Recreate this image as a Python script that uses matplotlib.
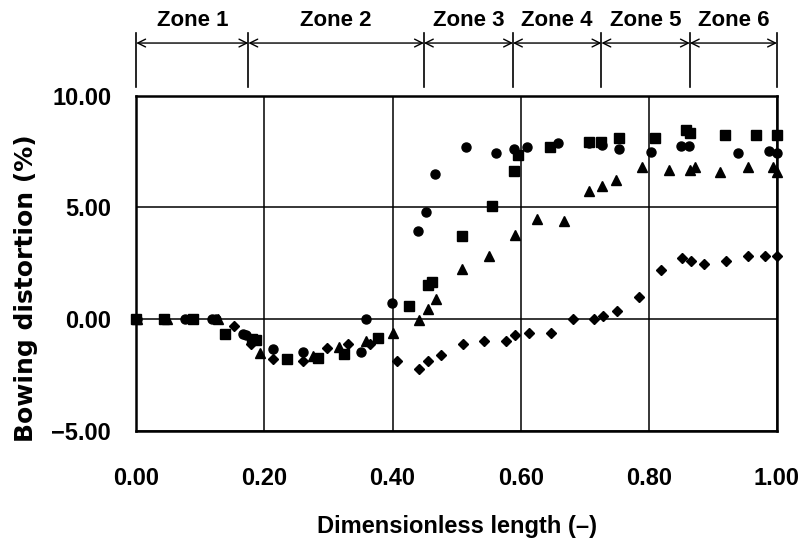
import matplotlib
matplotlib.use("Agg")
import matplotlib.pyplot as plt
from matplotlib.transforms import blended_transform_factory

plt.rcParams['font.family'] = ['Liberation Sans', 'DejaVu Sans']
plt.rcParams['font.weight'] = 'bold'

# circles
circ_x = [0.002, 0.076, 0.118, 0.124, 0.167, 0.172, 0.214, 0.261, 0.351, 0.358, 0.399, 0.439, 0.453, 0.466,
          0.514, 0.562, 0.590, 0.610, 0.659, 0.707, 0.727, 0.754, 0.803, 0.850, 0.863, 0.939, 0.987, 1.0]
circ_y = [0, 0, 0, 0, -0.64, -0.70, -1.33, -1.45, -1.45, 0, 0.72, 3.95, 4.81, 6.48,
          7.69, 7.46, 7.60, 7.69, 7.87, 7.87, 7.79, 7.60, 7.49, 7.75, 7.75, 7.42, 7.52, 7.42]
# squares
sq_x = [0.0, 0.043, 0.089, 0.138, 0.180, 0.187, 0.235, 0.283, 0.324, 0.378, 0.426, 0.455, 0.461, 0.508,
        0.556, 0.590, 0.596, 0.645, 0.706, 0.726, 0.754, 0.810, 0.858, 0.864, 0.919, 0.967, 1.0]
sq_y = [0, 0, 0, -0.64, -0.90, -0.95, -1.77, -1.74, -1.54, -0.86, 0.59, 1.55, 1.66, 3.72,
        5.06, 6.62, 7.37, 7.69, 7.94, 7.94, 8.09, 8.09, 8.46, 8.34, 8.24, 8.24, 8.24]
# triangles
tri_x = [0.002, 0.048, 0.127, 0.193, 0.276, 0.317, 0.359, 0.400, 0.441, 0.455, 0.468, 0.509, 0.550, 0.591,
         0.625, 0.667, 0.707, 0.727, 0.748, 0.790, 0.832, 0.865, 0.872, 0.911, 0.954, 0.994, 1.0]
tri_y = [0, 0, 0, -1.50, -1.65, -1.25, -0.98, -0.63, -0.04, 0.45, 0.90, 2.23, 2.82, 3.78,
         4.48, 4.40, 5.73, 5.96, 6.22, 6.79, 6.67, 6.70, 6.82, 6.60, 6.82, 6.82, 6.60]
# diamonds
dia_x = [0.153, 0.179, 0.214, 0.261, 0.297, 0.331, 0.365, 0.407, 0.441, 0.455, 0.475, 0.510, 0.543, 0.577,
         0.591, 0.613, 0.647, 0.681, 0.714, 0.729, 0.750, 0.784, 0.819, 0.852, 0.866, 0.886, 0.921, 0.955,
         0.982, 1.0]
dia_y = [-0.29, -1.10, -1.76, -1.88, -1.27, -1.13, -1.13, -1.87, -2.22, -1.87, -1.61, -1.12, -0.98, -0.98,
         -0.72, -0.61, -0.61, 0.0, 0.0, 0.14, 0.36, 1.0, 2.20, 2.72, 2.60, 2.47, 2.60, 2.83,
         2.83, 2.83]

zone_edges = [0.0, 0.175, 0.449, 0.588, 0.726, 0.864, 1.0]
zone_labels = ["Zone 1", "Zone 2", "Zone 3", "Zone 4", "Zone 5", "Zone 6"]

xticks = [0.0, 0.2, 0.4, 0.6, 0.8, 1.0]
yticks = [-5, 0, 5, 10]

fig = plt.figure(figsize=(8.06, 5.38), dpi=100)
ax = fig.add_axes([0.169, 0.199, 0.795, 0.623])

ax.plot(circ_x, circ_y, 'o', color='black', ms=6.5, clip_on=False, zorder=3)
ax.plot(sq_x, sq_y, 's', color='black', ms=6.5, clip_on=False, zorder=3)
ax.plot(tri_x, tri_y, '^', color='black', ms=7, clip_on=False, zorder=3)
ax.plot(dia_x, dia_y, 'D', color='black', ms=5, clip_on=False, zorder=3)

ax.set_xlim(0, 1)
ax.set_ylim(-5, 10)
ax.set_xticks(xticks)
ax.set_yticks(yticks)
ax.set_xticklabels([f"{v:.2f}" for v in xticks])
ax.set_yticklabels([f"{v:.2f}".replace('-', '\u2212') for v in yticks])
ax.tick_params(length=0, labelsize=17)
ax.tick_params(axis='x', pad=26)
ax.tick_params(axis='y', pad=18)
ax.grid(True, color='black', lw=1.1)
for s in ax.spines.values():
    s.set_linewidth(1.8)

ax.set_xlabel("Dimensionless length (\u2013)", fontsize=17, fontweight='bold', va='top')
ax.xaxis.set_label_coords(0.5, -0.25)
ax.set_ylabel("Bowing distortion (%)", fontsize=18, fontweight='bold', family='DejaVu Sans')
ax.yaxis.set_label_coords(-0.153, 0.427)

# zone markers above the plot
tr = blended_transform_factory(ax.transData, fig.transFigure)
for e in zone_edges:
    ax.plot([e, e], [0.838, 0.939], color='black', lw=1.2, transform=tr, clip_on=False)
for i, lab in enumerate(zone_labels):
    a, b = zone_edges[i], zone_edges[i + 1]
    ax.annotate("", xy=(a, 0.920), xytext=(b, 0.920), xycoords=tr, textcoords=tr,
                arrowprops=dict(arrowstyle='<->', color='black', lw=1.0,
                                shrinkA=0, shrinkB=0, mutation_scale=14))
    ax.text((a + b) / 2, 0.962, lab, transform=tr, ha='center', va='center',
            fontsize=16, fontweight='bold')

fig.savefig("out.png", dpi=100)
